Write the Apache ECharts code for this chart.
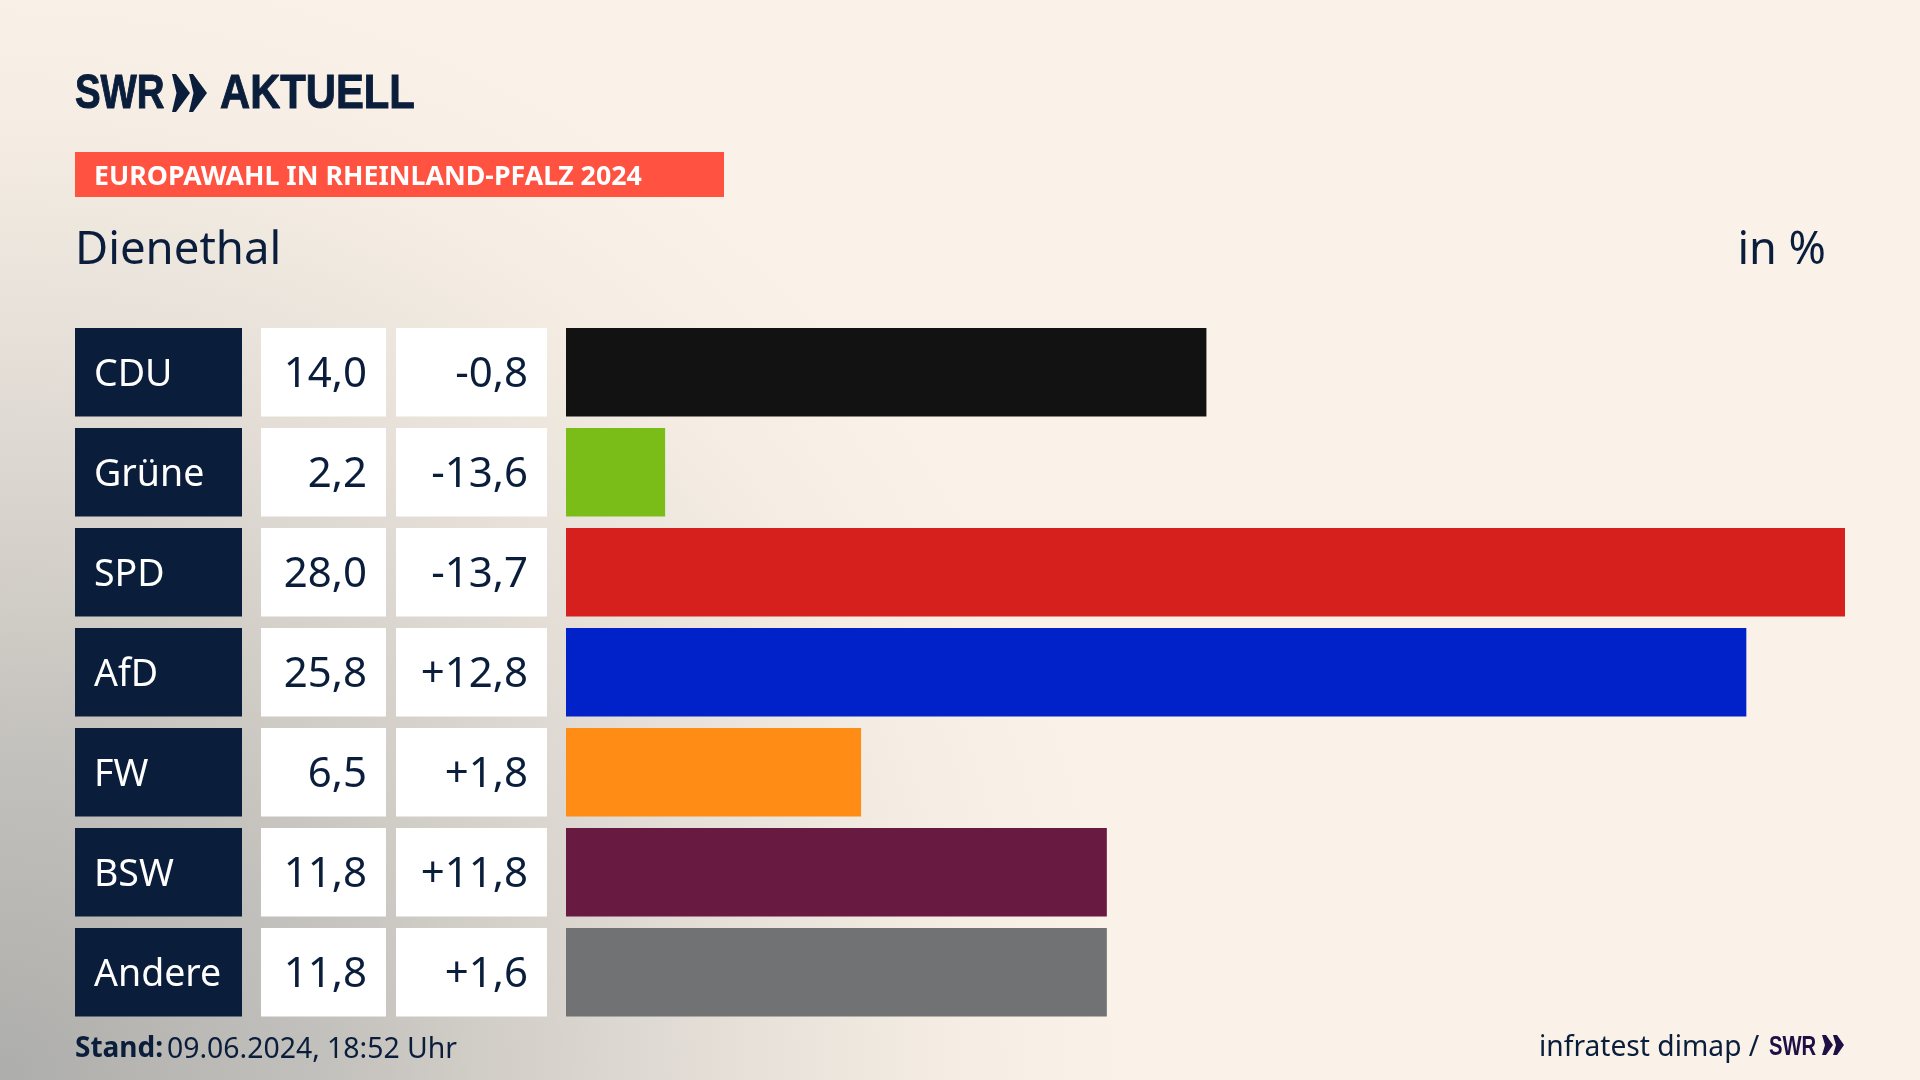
<!DOCTYPE html>
<html>
<head>
<meta charset="utf-8">
<style>html,body{margin:0;padding:0;background:#FAF2E8}#c{width:1920px;height:1080px}</style>
<script src="https://cdn.jsdelivr.net/npm/echarts@6/dist/echarts.min.js"></script>
</head>
<body>
<div id="c"></div>
<script>
const parties = ['CDU','Grüne','SPD','AfD','FW','BSW','Andere'];
const shares = [14.02,2.17,28.0,25.84,6.46,11.84,11.84];
const changes = [-0.8,-13.6,-13.7,12.8,1.8,11.8,1.6];
const partyColors = ['#121212','#7ABD18','#D6201E','#0022C8','#FF8C14','#691A40','#707274'];
const NAVY = '#0A1E3C';
const BODY = '"Noto Sans", sans-serif';
const HEAVY = '"Liberation Sans", sans-serif';

const fmtShare = v => v.toFixed(1).replace('.',',');
const fmtChange = v => (v>0?'+':'') + v.toFixed(1).replace('.',',');
const cellFill = parties.map(()=>1);

const gridBase = {top:322.25,height:700};
const grids = [
  {left:566,width:1279,...gridBase},
  {left:75,width:167,...gridBase},
  {left:261,width:125,...gridBase},
  {left:396,width:151,...gridBase}
];
const hiddenX = (i,max)=>({gridIndex:i,type:'value',min:0,max:max,show:false});
const hiddenY = i=>({gridIndex:i,type:'category',data:parties,inverse:true,show:false});

function cellSeries(i,color,labelColor,pos,dist,texts,size){
  return {type:'bar',xAxisIndex:i,yAxisIndex:i,barWidth:88.5,silent:true,
    data:cellFill,itemStyle:{color:color},
    label:{show:true,position:pos,distance:dist,offset:[0,3],color:labelColor,
      fontFamily:BODY,fontSize:size,
      formatter:p=>texts[p.dataIndex]}};
}
const txt=(x,y,text,size,color,extra={},scaleX=1)=>({type:'text',x:x,y:y,scaleX:scaleX,silent:true,
  style:Object.assign({text:text,fontSize:size,fill:color,fontFamily:BODY,verticalAlign:'middle'},extra)});
const chev=(x,y,w,h,n,color)=>({type:'polygon',silent:true,shape:{points:[[x,y],[x+4,y],[x+w,y+h/2],[x+4,y+h],[x,y+h],[x+n,y+h/2]]},style:{fill:color}});

const chart = echarts.init(document.getElementById('c'),null,{renderer:'canvas',width:1920,height:1080});
chart.setOption({
  animation:false,
  backgroundColor:{type:'radial',x:0,y:1080,r:1120,global:true,colorStops:[
    {offset:0,color:'#ADADAB'},{offset:0.28,color:'#C2C0BC'},{offset:0.42,color:'#D0CCC6'},
    {offset:0.65,color:'#E5DFD8'},{offset:0.85,color:'#F5EDE3'},{offset:1,color:'#FAF2E8'}]},
  grid:grids,
  xAxis:[hiddenX(0,28),hiddenX(1,1),hiddenX(2,1),hiddenX(3,1)],
  yAxis:[hiddenY(0),hiddenY(1),hiddenY(2),hiddenY(3)],
  series:[
    {type:'bar',xAxisIndex:0,yAxisIndex:0,barWidth:88.5,silent:true,
     data:shares.map((v,i)=>({value:v,itemStyle:{color:partyColors[i]}}))},
    cellSeries(1,NAVY,'#FFFFFF','insideLeft',19,parties,37.5),
    cellSeries(2,'#FFFFFF',NAVY,'insideRight',19,shares.map(fmtShare),42),
    cellSeries(3,'#FFFFFF',NAVY,'insideRight',19,changes.map(fmtChange),42)
  ],
  graphic:[
    {type:'rect',silent:true,shape:{x:75,y:152,width:649,height:45},style:{fill:'#FF5240'}},
    txt(94,177,'EUROPAWAHL IN RHEINLAND-PFALZ 2024',26.75,'#FFFFFF',{fontWeight:'bold'}),
    txt(75,95,'SWR',48,NAVY,{fontWeight:'bold',fontFamily:HEAVY,stroke:NAVY,lineWidth:1},0.8),
    chev(172,74,18,38,4.5,NAVY),
    chev(189,74,18,38,4.5,NAVY),
    txt(220,95,'AKTUELL',48,NAVY,{fontWeight:'bold',fontFamily:HEAVY,stroke:NAVY,lineWidth:1},0.87),
    txt(75,251.5,'Dienethal',45.5,NAVY),
    txt(1826,251.5,'in %',45,NAVY,{align:'right'}),
    txt(75,1049.5,'Stand:',28,NAVY,{fontWeight:'bold'}),
    txt(167,1049.5,'09.06.2024, 18:52 Uhr',28.4,NAVY),
    txt(1539,1047.5,'infratest dimap /',28.2,NAVY),
    txt(1769,1047.5,'SWR',27,'#1E0F45',{fontWeight:'bold',fontFamily:HEAVY},0.75),
    chev(1822,1035,11,20,3,'#1E0F45'),
    chev(1833,1035,11,20,3,'#1E0F45')
  ]
});
</script>
</body>
</html>
